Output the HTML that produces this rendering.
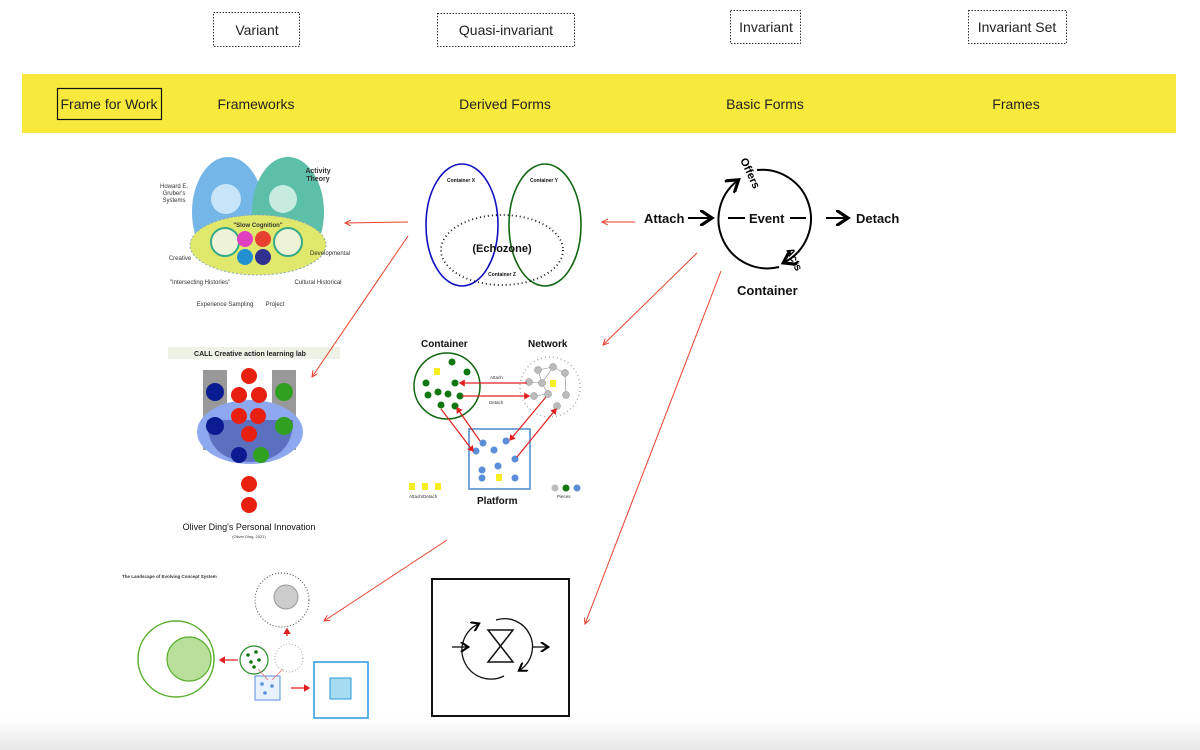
<!DOCTYPE html>
<html><head><meta charset="utf-8"><style>
html,body{margin:0;padding:0;background:#fff;}
svg{display:block;font-family:"Liberation Sans",sans-serif;}
</style></head><body>
<svg width="1200" height="750" viewBox="0 0 1200 750" xmlns="http://www.w3.org/2000/svg">
<defs>
<marker id="ra" markerWidth="8" markerHeight="8" refX="6" refY="3" orient="auto"><path d="M0,0 L6,3 L0,6" fill="none" stroke="#e8402a" stroke-width="1"/></marker>
<marker id="ka" markerWidth="8" markerHeight="8" refX="5" refY="4" orient="auto"><path d="M0,0 L6,4 L0,8" fill="none" stroke="#000" stroke-width="1.6"/></marker>
<marker id="rs" markerWidth="6" markerHeight="6" refX="4" refY="3" orient="auto"><path d="M0,0 L5,3 L0,6z" fill="#e02020"/></marker>
<linearGradient id="bg" x1="0" y1="0" x2="0" y2="1"><stop offset="0" stop-color="#fff"/><stop offset="1" stop-color="#e8e8e8"/></linearGradient>
</defs>
<rect x="0" y="718" width="1200" height="32" fill="url(#bg)"/>
<g font-size="14" fill="#222" text-anchor="middle" stroke-dasharray="1.5,1.5">
<rect x="213.5" y="12.5" width="86" height="34" fill="none" stroke="#333"/>
<rect x="437.5" y="13.5" width="137" height="33" fill="none" stroke="#333"/>
<rect x="730.5" y="10.5" width="70" height="33" fill="none" stroke="#333"/>
<rect x="968.5" y="10.5" width="98" height="33" fill="none" stroke="#333"/>
</g>
<g font-size="14" fill="#222" text-anchor="middle">
<text x="257" y="35">Variant</text>
<text x="506" y="35">Quasi-invariant</text>
<text x="766" y="32">Invariant</text>
<text x="1017" y="32">Invariant Set</text>
</g>
<rect x="22" y="74" width="1154" height="59" fill="#f8ea3c"/>
<rect x="57.5" y="88.5" width="104" height="31" fill="none" stroke="#111" stroke-width="1.2"/>
<g font-size="14" fill="#222" text-anchor="middle">
<text x="109" y="109">Frame for Work</text>
<text x="256" y="109">Frameworks</text>
<text x="505" y="109">Derived Forms</text>
<text x="765" y="109">Basic Forms</text>
<text x="1016" y="109">Frames</text>
</g>
<!-- Framework 1 -->
<g>
<ellipse cx="228" cy="212" rx="36" ry="55" fill="#74b6e8"/>
<ellipse cx="288" cy="212" rx="36" ry="55" fill="#5cbfa7"/>
<ellipse cx="258" cy="245" rx="68" ry="30" fill="#dfe86a" stroke="#8ab" stroke-dasharray="2,2"/>
<circle cx="226" cy="199" r="15" fill="#c8e4f8"/><circle cx="283" cy="199" r="14" fill="#c6ece0"/>
<circle cx="225" cy="242" r="14" fill="#eef3d8" stroke="#3a8" stroke-width="2"/>
<circle cx="288" cy="242" r="14" fill="#eef3d8" stroke="#3a8" stroke-width="2"/>
<circle cx="245" cy="239" r="8" fill="#e040c0"/><circle cx="263" cy="239" r="8" fill="#e84030"/>
<circle cx="245" cy="257" r="8" fill="#2090d0"/><circle cx="263" cy="257" r="8" fill="#303090"/>
<g font-size="6" fill="#333" text-anchor="middle"><text x="258" y="227" font-weight="bold">"Slow Cognition"</text>
<text x="174" y="188">Howard E.</text><text x="174" y="195">Gruber's</text><text x="174" y="202">Systems</text>
<text x="318" y="173" font-size="7" font-weight="bold">Activity</text><text x="318" y="181" font-size="7" font-weight="bold">Theory</text>
<text x="180" y="260">Creative</text><text x="330" y="255">Developmental</text>
<text x="200" y="284">"Intersecting Histories"</text><text x="318" y="284">Cultural Historical</text>
<text x="225" y="306">Experience Sampling</text><text x="275" y="306">Project</text></g>
</g>
<!-- Framework 2 -->
<rect x="168" y="347" width="172" height="12" fill="#eef1e6"/>
<text x="250" y="356" font-size="7" font-weight="bold" text-anchor="middle" fill="#222">CALL Creative action learning lab</text>
<rect x="203" y="370" width="24" height="80" fill="#999"/><rect x="272" y="370" width="24" height="80" fill="#999"/>
<ellipse cx="250" cy="432" rx="53" ry="32" fill="#8ea8f0"/>
<path d="M207 420 Q207 460 250 462 Q293 460 293 420 Z" fill="#5c70c0"/>
<g fill="#e82010"><circle cx="249" cy="376" r="8"/><circle cx="239" cy="395" r="8"/><circle cx="259" cy="395" r="8"/><circle cx="239" cy="416" r="8"/><circle cx="258" cy="416" r="8"/><circle cx="249" cy="434" r="8"/><circle cx="249" cy="484" r="8"/><circle cx="249" cy="505" r="8"/></g>
<g fill="#0a1a90"><circle cx="215" cy="392" r="9"/><circle cx="215" cy="426" r="9"/><circle cx="239" cy="455" r="8"/></g>
<g fill="#30a020"><circle cx="284" cy="392" r="9"/><circle cx="284" cy="426" r="9"/><circle cx="261" cy="455" r="8"/></g>
<text x="249" y="530" font-size="9" text-anchor="middle" fill="#111">Oliver Ding's Personal Innovation</text>
<text x="249" y="538" font-size="4" text-anchor="middle" fill="#333">(Oliver Ding, 2021)</text>
<!-- Echozone -->
<ellipse cx="462" cy="225" rx="36" ry="61" fill="none" stroke="#1010c0" stroke-width="1.6"/>
<ellipse cx="545" cy="225" rx="36" ry="61" fill="none" stroke="#116611" stroke-width="1.6"/>
<ellipse cx="502" cy="250" rx="61" ry="35" fill="none" stroke="#111" stroke-width="1.8" stroke-dasharray="1,3"/>
<g font-size="5" font-weight="bold" text-anchor="middle" fill="#111"><text x="461" y="182">Container X</text><text x="544" y="182">Container Y</text><text x="502" y="276">Container Z</text></g>
<text x="502" y="252" font-size="11" font-weight="bold" text-anchor="middle" fill="#111">(Echozone)</text>
<!-- Event circle -->
<g font-weight="bold" font-size="13" fill="#111">
<text x="644" y="223">Attach</text>
<text x="856" y="223">Detach</text>
<text x="749" y="223">Event</text>
<text x="737" y="295">Container</text>
</g>
<g stroke="#000" stroke-width="2" fill="none">
<line x1="688" y1="218" x2="710" y2="218" marker-end="url(#ka)"/>
<line x1="826" y1="218" x2="846" y2="218" marker-end="url(#ka)"/>
<line x1="728" y1="218" x2="745" y2="218"/><line x1="790" y1="218" x2="806" y2="218"/>
<path d="M757 170 A49 49 0 0 1 785 262" marker-end="url(#ka)"/>
<path d="M779 267 A49 49 0 0 1 737 181" marker-end="url(#ka)"/>
</g>
<text x="740" y="160" font-size="11" font-weight="bold" transform="rotate(65 740 160)">Offers</text>
<text x="786" y="250" font-size="11" font-weight="bold" transform="rotate(65 786 250)">Acts</text>
<!-- Container/Network/Platform -->
<g font-weight="bold" font-size="10" fill="#111"><text x="421" y="347">Container</text><text x="528" y="347">Network</text><text x="477" y="504">Platform</text></g>
<circle cx="447" cy="386" r="33" fill="none" stroke="#116611" stroke-width="1.5"/>
<circle cx="550" cy="387" r="30" fill="none" stroke="#aaa" stroke-width="1.5" stroke-dasharray="1,3"/>
<rect x="469" y="429" width="61" height="60" fill="none" stroke="#4a88cc" stroke-width="1.5"/>
<g stroke="#888" stroke-width="0.6"><line x1="538" y1="370" x2="553" y2="367"/><line x1="553" y1="367" x2="565" y2="373"/><line x1="538" y1="370" x2="542" y2="383"/><line x1="542" y1="383" x2="553" y2="367"/><line x1="565" y1="373" x2="566" y2="395"/><line x1="529" y1="382" x2="542" y2="383"/><line x1="542" y1="383" x2="548" y2="394"/><line x1="548" y1="394" x2="534" y2="396"/></g>
<g fill="#117711"><circle cx="452" cy="362" r="3.5"/><circle cx="467" cy="372" r="3.5"/><circle cx="426" cy="383" r="3.5"/><circle cx="455" cy="383" r="3.5"/><circle cx="428" cy="395" r="3.5"/><circle cx="438" cy="392" r="3.5"/><circle cx="448" cy="394" r="3.5"/><circle cx="460" cy="396" r="3.5"/><circle cx="441" cy="405" r="3.5"/><circle cx="455" cy="406" r="3.5"/></g>
<g fill="#bbb" stroke="#888" stroke-width="0.5"><circle cx="538" cy="370" r="3.5"/><circle cx="553" cy="367" r="3.5"/><circle cx="565" cy="373" r="3.5"/><circle cx="529" cy="382" r="3.5"/><circle cx="542" cy="383" r="3.5"/><circle cx="534" cy="396" r="3.5"/><circle cx="548" cy="394" r="3.5"/><circle cx="566" cy="395" r="3.5"/><circle cx="557" cy="406" r="3.5"/></g>
<g fill="#5a8ed8"><circle cx="483" cy="443" r="3.5"/><circle cx="494" cy="450" r="3.5"/><circle cx="506" cy="441" r="3.5"/><circle cx="476" cy="451" r="3.5"/><circle cx="515" cy="459" r="3.5"/><circle cx="498" cy="466" r="3.5"/><circle cx="482" cy="470" r="3.5"/><circle cx="482" cy="478" r="3.5"/><circle cx="515" cy="478" r="3.5"/></g>
<g stroke="#e02020" stroke-width="1.2" marker-end="url(#rs)"><line x1="527" y1="383" x2="460" y2="383"/><line x1="462" y1="396" x2="529" y2="396"/><line x1="480" y1="441" x2="457" y2="408"/><line x1="441" y1="409" x2="473" y2="451"/><line x1="546" y1="397" x2="510" y2="440"/><line x1="517" y1="457" x2="556" y2="409"/></g>
<g font-size="4.5" fill="#333"><text x="490" y="379">Attach</text><text x="489" y="404">Detach</text></g>
<g fill="#f6ee22"><rect x="434" y="368" width="6" height="7"/><rect x="550" y="380" width="6" height="7"/><rect x="496" y="474" width="6" height="7"/><rect x="409" y="483" width="6" height="7"/><rect x="422" y="483" width="6" height="7"/><rect x="435" y="483" width="6" height="7"/></g>
<text x="409" y="498" font-size="4.5" fill="#333">Attach/Detach</text>
<circle cx="555" cy="488" r="3.5" fill="#bbb"/><circle cx="566" cy="488" r="3.5" fill="#117711"/><circle cx="577" cy="488" r="3.5" fill="#5a8ed8"/>
<text x="557" y="498" font-size="4.5" fill="#333">Pieces</text>
<!-- Landscape -->
<text x="122" y="578" font-size="4.5" font-weight="bold" fill="#333">The Landscape of Evolving Concept System</text>
<circle cx="282" cy="600" r="27" fill="none" stroke="#444" stroke-width="1" stroke-dasharray="1,2"/>
<circle cx="286" cy="597" r="12" fill="#ccc" stroke="#999"/>
<circle cx="176" cy="659" r="38" fill="none" stroke="#5ab030" stroke-width="1.5"/>
<circle cx="189" cy="659" r="22" fill="#b8e09a" stroke="#5ab030" stroke-width="1.2"/>
<circle cx="254" cy="660" r="14" fill="none" stroke="#2a8a2a" stroke-width="1.2"/>
<g fill="#117711"><circle cx="248" cy="655" r="1.8"/><circle cx="256" cy="652" r="1.8"/><circle cx="251" cy="662" r="1.8"/><circle cx="259" cy="660" r="1.8"/><circle cx="254" cy="667" r="1.8"/></g>
<circle cx="289" cy="658" r="14" fill="none" stroke="#aaa" stroke-dasharray="1,2"/>
<rect x="255" y="676" width="25" height="24" fill="#e8f2ff" stroke="#5a8ed8"/>
<g fill="#5a8ed8"><circle cx="262" cy="684" r="1.8"/><circle cx="272" cy="686" r="1.8"/><circle cx="265" cy="693" r="1.8"/></g>
<g stroke="#e07070" stroke-width="0.8"><line x1="258" y1="669" x2="268" y2="680"/><line x1="283" y1="669" x2="272" y2="680"/></g>
<rect x="314" y="662" width="54" height="56" fill="none" stroke="#2a9adc" stroke-width="1.5"/>
<rect x="330" y="678" width="21" height="21" fill="#a6dcf2" stroke="#2a9adc"/>
<g stroke="#e02020" stroke-width="1.3" marker-end="url(#rs)"><line x1="238" y1="660" x2="220" y2="660"/><line x1="287" y1="636" x2="287" y2="629"/><line x1="291" y1="688" x2="309" y2="688"/></g>
<!-- red connectors -->
<g stroke="#e8402a" stroke-width="1" fill="none" marker-end="url(#ra)">
<line x1="408" y1="222" x2="345" y2="223"/>
<line x1="408" y1="236" x2="312" y2="377"/>
<line x1="635" y1="222" x2="602" y2="222"/>
<line x1="697" y1="253" x2="603" y2="345"/>
<line x1="721" y1="271" x2="585" y2="624"/>
<line x1="447" y1="540" x2="324" y2="621"/>
</g>
<!-- hourglass frame -->
<rect x="432" y="579" width="137" height="137" fill="none" stroke="#111" stroke-width="2"/>
<path d="M488 630 L513 630 L488 662 L513 662 Z" fill="none" stroke="#111" stroke-width="1.5"/>
<g stroke="#111" stroke-width="1.3" fill="none">
<line x1="452" y1="647" x2="467" y2="647" marker-end="url(#ka)"/>
<line x1="533" y1="647" x2="547" y2="647" marker-end="url(#ka)"/>
<path d="M496 620 A28 28 0 0 1 520 670" marker-end="url(#ka)"/>
<path d="M504 676 A28 28 0 0 1 478 624" marker-end="url(#ka)"/>
</g>
</svg>
</body></html>
